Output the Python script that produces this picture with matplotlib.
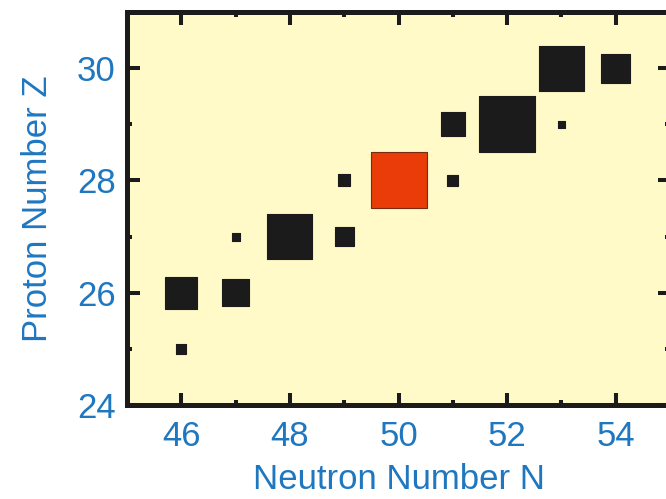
import matplotlib
matplotlib.use('Agg')
import matplotlib.pyplot as plt
from matplotlib.ticker import MultipleLocator

# nuclides: neutron number, proton number, relative square size (px side)
neutrons = [46, 46, 47, 47, 48, 49, 49, 50, 51, 51, 52, 53, 53, 54]
protons = [25, 26, 26, 27, 27, 27, 28, 28, 28, 29, 29, 29, 30, 30]
sizes = [10, 32, 27, 8, 45, 19, 12, 56, 11, 24, 56, 7, 45, 29]
highlight = (50, 28)

bg = '#fffac8'
blue = '#1f77c0'
red = '#ea3c08'
dark = '#1b1b1b'

plt.rcParams['font.family'] = ['Liberation Sans', 'DejaVu Sans']

dpi = 100
fig = plt.figure(figsize=(6.66, 4.99), dpi=dpi)
ax = fig.add_axes([127/666, 94/499, 543/666, 393/499])
ax.set_facecolor(bg)

cols = []
for n, z in zip(neutrons, protons):
	if (n, z) == highlight:
		cols.append(red)
	else:
		cols.append(dark)
edges = ['#7a2a10' if c == red else dark for c in cols]
ms = [(s * 72.0 / dpi) ** 2 for s in sizes]
ax.scatter(neutrons, protons, s=ms, marker='s', c=cols, edgecolors=edges, linewidths=0.8, zorder=3)

ax.set_xlim(45, 55)
ax.set_ylim(24, 31)
ax.xaxis.set_major_locator(MultipleLocator(2))
ax.xaxis.set_minor_locator(MultipleLocator(1))
ax.yaxis.set_major_locator(MultipleLocator(2))
ax.yaxis.set_minor_locator(MultipleLocator(1))

for sp in ax.spines.values():
	sp.set_linewidth(3.6)
	sp.set_color(dark)

ax.tick_params(which='both', direction='in', top=True, right=True, color=dark, labelcolor=blue, labelsize=25)
ax.tick_params(which='major', length=9, width=2.9)
ax.tick_params(which='minor', length=3.5, width=2.9)
ax.tick_params(axis='x', which='major', pad=11)
ax.tick_params(axis='y', which='major', pad=8)

ax.set_xlabel('Neutron Number N', color=blue, fontsize=25, labelpad=7)
ax.set_ylabel('Proton Number Z', color=blue, fontsize=25, labelpad=17)

fig.savefig('out.png', dpi=dpi)
